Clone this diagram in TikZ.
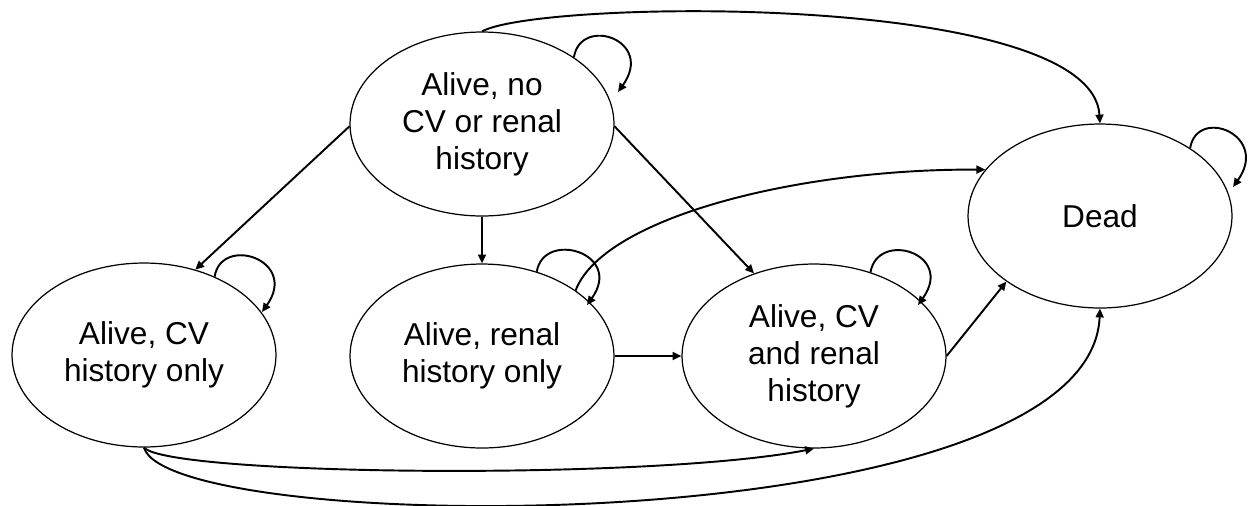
\documentclass[tikz,border=0pt]{standalone}
\usepackage{fontspec}
\setmainfont{Liberation Sans}
\usetikzlibrary{shapes.geometric,arrows.meta}
\begin{document}
\begin{tikzpicture}[x=0.02cm,y=-0.02cm,
  state/.style={draw, line width=0.7pt, ellipse, minimum width=5.28cm, minimum height=3.68cm,
    inner sep=0pt, align=center, font=\fontsize{18}{21}\selectfont},
  arr/.style={line width=1.1pt, -{Triangle[length=5pt,width=4.5pt]}},
]
\useasboundingbox (0,0) rectangle (1253,505);
\node[state] (top)  at (482,124)  {Alive, no\\CV or renal\\history};
\node[state] (cv)   at (144,355)  {Alive, CV\\history only};
\node[state] (ren)  at (482,356)  {Alive, renal\\history only};
\node[state] (both) at (814,356)  {Alive, CV\\and renal\\history};
\node[state] (dead) at (1100,216) {Dead};
% transitions from the top state
\draw[arr] (top.181) -- (cv.59);
\draw[arr] (top.south) -- (ren.north);
\draw[arr] (top.359) -- (both.126);
\draw[arr] (top.north) .. controls +(58,-32) and +(-8,-132) .. (dead.north);
% self loops
\draw[arr] (top.36)  .. controls +(7,-42) and +(37,-52) .. ([shift={(136,-32)}]top.center);
\draw[arr] (cv.48)   .. controls +(7,-42) and +(37,-52) .. ([shift={(118,-43)}]cv.center);
\draw[arr] (ren.57)  .. controls +(7,-42) and +(37,-52) .. ([shift={(105,-51)}]ren.center);
\draw[arr] (both.56) .. controls +(7,-42) and +(37,-52) .. ([shift={(104,-51)}]both.center);
\draw[arr] (dead.37) .. controls +(7,-42) and +(37,-52) .. ([shift={(133,-29)}]dead.center);
% other transitions
\draw[arr] (ren.35) .. controls +(27,-72) and +(-190,-1) .. (dead.158);
\draw[arr] (ren.east) -- (both.west);
\draw[arr] (both.east) -- (dead.215);
\draw[arr] (cv.south) .. controls +(26,28) and +(-164,32) .. (both.south);
\draw[arr] (cv.south) .. controls +(26,90) and +(-10,236) .. (dead.south);
\end{tikzpicture}
\end{document}
